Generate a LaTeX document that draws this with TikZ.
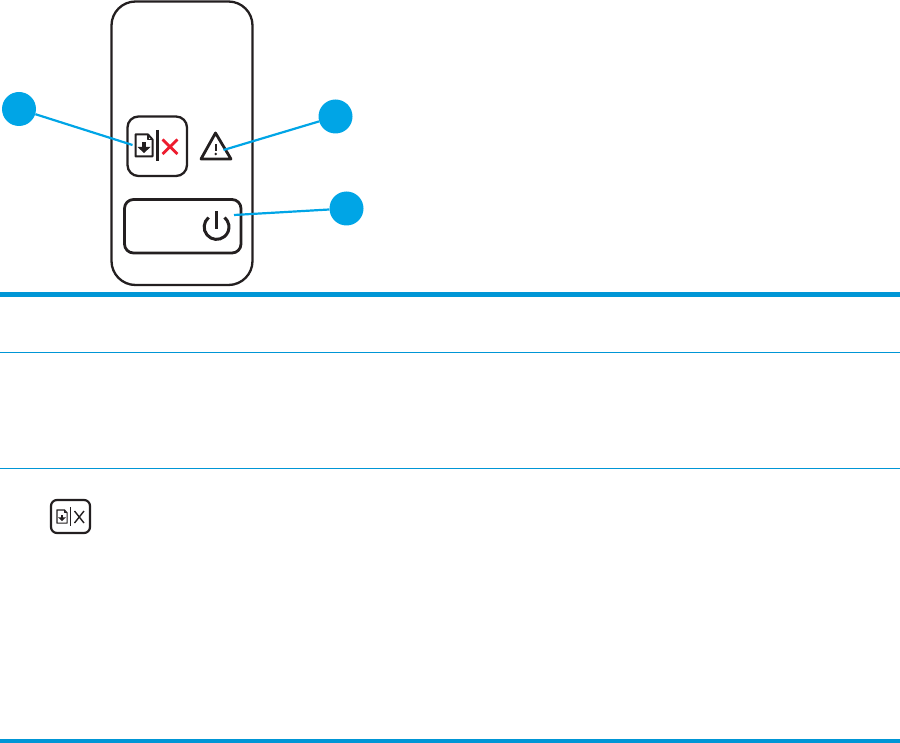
\documentclass[tikz,border=0pt]{standalone}
\usepackage{tikz}
\definecolor{hpblue}{HTML}{0096D6}
\definecolor{calloutblue}{HTML}{00A5E6}
\definecolor{xred}{HTML}{ED1C2E}
\definecolor{inkblack}{HTML}{231F20}
\def\docicon(#1,#2)[#3]{
	\draw[inkblack, line width=#3*2pt, line join=round, fill=white] (#1-8.5*#3, #2-11*#3) -- (#1+4*#3, #2-11*#3) -- (#1+8.5*#3, #2-6*#3) -- (#1+8.5*#3, #2+11*#3) -- (#1-8.5*#3, #2+11*#3) -- cycle;
	\draw[inkblack, line width=#3*1.4pt, line join=round] (#1+4*#3, #2-11*#3) -- (#1+4*#3, #2-6*#3) -- (#1+8.5*#3, #2-6*#3);
	\fill[inkblack] (#1-2.4*#3, #2-3*#3) rectangle (#1+2.4*#3, #2+2*#3);
	\fill[inkblack] (#1-6.5*#3, #2+1.5*#3) -- (#1+6.5*#3, #2+1.5*#3) -- (#1, #2+7.5*#3) -- cycle;
}
\tikzset{
	x=1pt, y=-1pt,
	callout/.style={circle, fill=calloutblue, draw=none, minimum size=34pt, inner sep=0pt},
	leader/.style={draw=calloutblue, line width=2.2pt},
	panelline/.style={draw=inkblack, line width=2.3pt},
	outline/.style={draw=inkblack, line width=2.8pt},
	thickrule/.style={draw=hpblue, line width=5pt},
	thinrule/.style={draw=hpblue, line width=1pt}
}
\begin{document}
\begin{tikzpicture}
	\useasboundingbox (0, 0) rectangle (900, 743);
	%%%%% PANEL %%%%%

	\draw[panelline, rounded corners=24pt] (111.5, 1.5) rectangle (252.5, 285);

	% cancel button
	\draw[panelline, rounded corners=11pt] (127.5, 116.5) rectangle (187, 176);
	\docicon(144,145.5)[1]
	\draw[inkblack, line width=2.4pt] (157.5, 130) -- (157.5, 161);
	\draw[xred, line width=2.8pt] (162.5, 139.5) -- (177.5, 154);
	\draw[xred, line width=2.8pt] (177.5, 139.5) -- (162.5, 154);

	% warning triangle
	\draw[outline, line join=round] (215.5, 133) -- (231, 159) -- (201, 159) -- cycle;
	\draw[inkblack, line width=1.8pt] (215.8, 144) -- (215.8, 151);
	\fill[inkblack] (215.8, 154) circle (1.4);

	% power button
	\draw[outline, rounded corners=9pt] (124.5, 199.5) rectangle (241, 253);
	\draw[inkblack, line width=3pt] (208.6, 217.5) arc (-130:-410:12.4);
	\draw[inkblack, line width=3pt] (216.6, 211.5) -- (216.6, 229);

	%%%%% CALLOUTS %%%%%

	\node[callout] (callcancel) at (19, 109) {};
	\node[callout] (callwarn) at (335.5, 116.5) {};
	\node[callout] (callpower) at (346.5, 208.5) {};
	\coordinate (endcancel) at (132.5, 145);
	\coordinate (endwarn) at (223.5, 150);
	\coordinate (endpower) at (234, 215);
	\draw[leader] (callcancel) -- (endcancel);
	\draw[leader] (callwarn) -- (endwarn);
	\draw[leader] (callpower) -- (endpower);

	%%%%% TABLE %%%%%

	\draw[thickrule] (0, 295) -- (900, 295);
	\draw[thinrule] (0, 353) -- (900, 353);
	\draw[thinrule] (0, 468.5) -- (900, 468.5);
	\draw[thickrule] (0, 741) -- (900, 741);

	% small cancel key in the table
	\draw[inkblack, line width=2.2pt, rounded corners=6pt] (51, 500) rectangle (90, 533);
	\docicon(62,516.5)[0.6]
	\draw[inkblack, line width=1.3pt] (70.5, 507) -- (70.5, 526);
	\draw[inkblack, line width=1.4pt] (74.5, 511) -- (84, 523);
	\draw[inkblack, line width=1.4pt] (84, 511) -- (74.5, 523);
\end{tikzpicture}
\end{document}
